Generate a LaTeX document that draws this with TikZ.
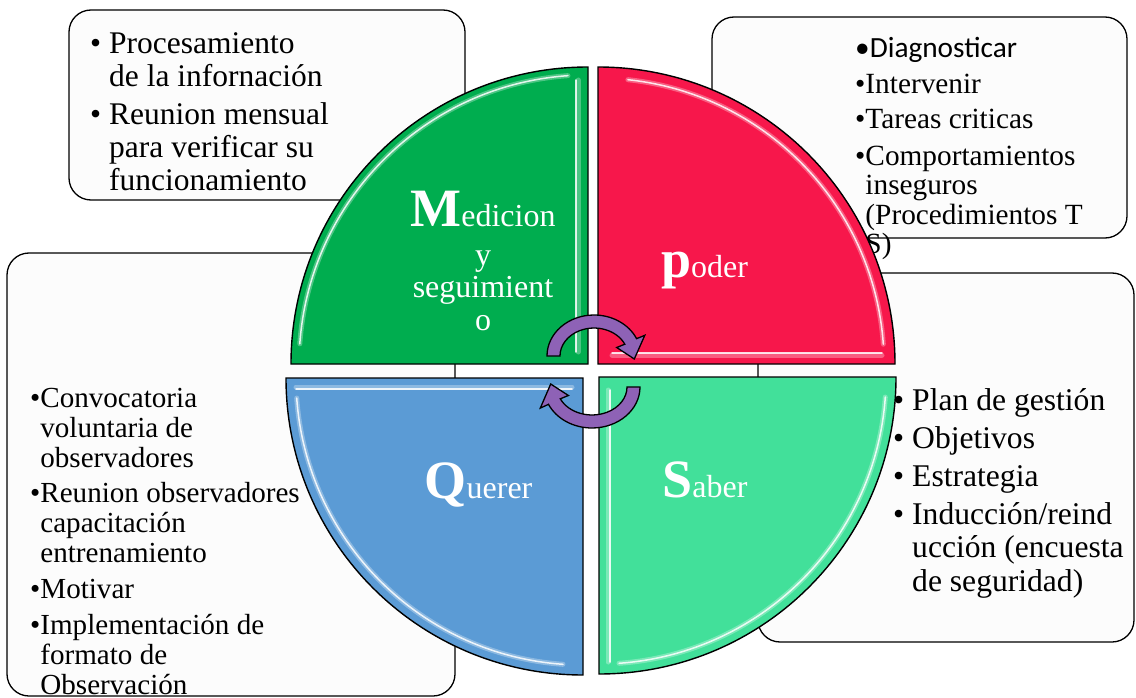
\documentclass[tikz,border=0pt]{standalone}
\usepackage{fontspec}
\setmainfont{Liberation Serif}
\newfontfamily\calib{Carlito}
\definecolor{cgreen}{RGB}{0,173,79}
\definecolor{cred}{RGB}{247,23,75}
\definecolor{cblue}{RGB}{91,155,213}
\definecolor{csaber}{RGB}{66,224,154}
\definecolor{carrow}{RGB}{142,98,182}
\definecolor{boxfill}{RGB}{252,252,252}
\newcommand\capL[1]{{\fontsize{54}{54}\selectfont\bfseries #1}}
\newcommand\bul{\makebox[19pt][l]{•}}
\newcommand\myind{\hspace*{19pt}}
\newcommand\hangb{\phantom{•}}
\tikzset{
  box/.style={draw=black, line width=1.3pt, fill=boxfill, rounded corners=22pt},
  quad/.style={draw=black, line width=1.4pt},
  hlband/.style={line width=5pt, draw opacity=.55, line cap=round},
  hlline/.style={draw=white, line width=1.5pt, draw opacity=.85, line cap=round},
  lbl/.style={text=white, inner sep=0pt, anchor=base, font=\fontsize{32}{33}\selectfont},
  btxt/.style={inner sep=0pt, align=left, anchor=north west},
  arr/.style={draw=black, line width=1.3pt, fill=carrow},
}
\begin{document}
\begin{tikzpicture}[x=1pt,y=1pt,yscale=-1]
\useasboundingbox (0,0) rectangle (1136,698);
% background boxes
\draw[box] (69,10) rectangle (465,200);
\draw[box] (712,17) rectangle (1127,238);
\draw[box] (7,253) rectangle (455,696);
\draw[box] (758,273) rectangle (1134,642);
% box texts
\node[btxt, font=\fontsize{31.5}{33}\selectfont] (tltext) at (90,25)
  {\rule{0pt}{28pt}\bul Procesamiento\\
   \myind de la infornación\\[5pt]
   \bul Reunion mensual\\
   \myind para verificar su\\
   \myind funcionamiento};
\node[btxt, font=\fontsize{29.3}{29.5}\selectfont] (trtext) at (855,30)
  {\rule{0pt}{27pt}{\calib •Diagnosticar}\\[6.5pt]
   •Intervenir\\[5.5pt]
   •Tareas criticas\\[7.5pt]
   •Comportamientos\\
   \hangb inseguros\\
   \hangb(Procedimientos T\\
   \hangb S)};
\node[btxt, font=\fontsize{29.1}{30}\selectfont] (ltext) at (30,380)
  {\rule{0pt}{27pt}•Convocatoria\\
   \hangb voluntaria de\\
   \hangb observadores\\[5.5pt]
   •Reunion observadores\\
   \hangb capacitación\\
   \hangb entrenamiento\\[6pt]
   •Motivar\\[6pt]
   •Implementación de\\
   \hangb formato de\\
   \hangb Observación};
\node[btxt, font=\fontsize{31.6}{33.5}\selectfont] (rtext) at (893,382)
  {\rule{0pt}{28pt}\bul Plan de gestión\\[4.5pt]
   \bul Objetivos\\[4.5pt]
   \bul Estrategia\\[4.5pt]
   \bul Inducción/reind\\
   \myind ucción (encuesta\\
   \myind de seguridad)};
% quadrants
\draw[quad, fill=cgreen] (588,364) -- (291,364) arc[start angle=180, end angle=270, radius=297] -- cycle;
\draw[quad, fill=cred] (598,364) -- (598,67) arc[start angle=270, end angle=360, radius=297] -- cycle;
\draw[quad, fill=cblue] (583,378) -- (583,675) arc[start angle=90, end angle=180, radius=297] -- cycle;
\draw[quad, fill=csaber] (599,377) -- (896,377) arc[start angle=0, end angle=90, radius=297] -- cycle;
% bevel highlights
\draw[hlband, draw=cgreen!45!white] (299.8,343.8) arc[start angle=184, end angle=266, radius=289];
\draw[hlline] (299.8,343.8) arc[start angle=184, end angle=266, radius=289];
\draw[hlband, draw=cgreen!45!white] (578,80) -- (578,352);
\draw[hlline] (576,80) -- (576,352);
\draw[hlband, draw=cred!45!white] (627.9,79.7) arc[start angle=276, end angle=356, radius=286];
\draw[hlline] (627.9,79.7) arc[start angle=276, end angle=356, radius=286];
\draw[hlband, draw=cred!45!white] (612,355) -- (882,355);
\draw[hlline] (612,353) -- (882,353);
\draw[hlband, draw=cblue!45!white] (296,387) -- (572,387);
\draw[hlline] (296,389) -- (572,389);
\draw[hlband, draw=cblue!45!white] (563,664.3) arc[start angle=94, end angle=176, radius=287];
\draw[hlline] (563,664.3) arc[start angle=94, end angle=176, radius=287];
\draw[hlband, draw=csaber!45!white] (608,390) -- (608,662);
\draw[hlline] (610,390) -- (610,662);
\draw[hlband, draw=csaber!45!white] (885.3,397) arc[start angle=4, end angle=86, radius=287];
\draw[hlline] (885.3,397) arc[start angle=4, end angle=86, radius=287];
% quadrant labels
\node[lbl] (med1) at (483,226) {\capL{M}edicion};
\node[lbl] (med2) at (483,265) {y};
\node[lbl] (med3) at (483,297) {seguimient};
\node[lbl] (med4) at (483,330) {o};
\node[lbl] (poder) at (704.5,277) {\capL{p}oder};
\node[lbl] (querer) at (478.5,498) {\capL{Q}uerer};
\node[lbl] (saber) at (705,497) {\capL{S}aber};
% cycle arrows
\draw[arr] (547,356) arc[start angle=180, end angle=335, x radius=47, y radius=41]
  -- (644.8,335.3) -- (634.3,359) -- (616.7,347.5) -- (624.8,344.2)
  arc[start angle=335, end angle=180, x radius=34, y radius=28] -- cycle;
\draw[arr] (640,387) arc[start angle=0, end angle=155, x radius=48, y radius=41]
  -- (540.3,408.1) -- (550.7,384) -- (568.4,395.5) -- (560.3,398.8)
  arc[start angle=155, end angle=0, x radius=35, y radius=28] -- cycle;
\end{tikzpicture}
\end{document}
